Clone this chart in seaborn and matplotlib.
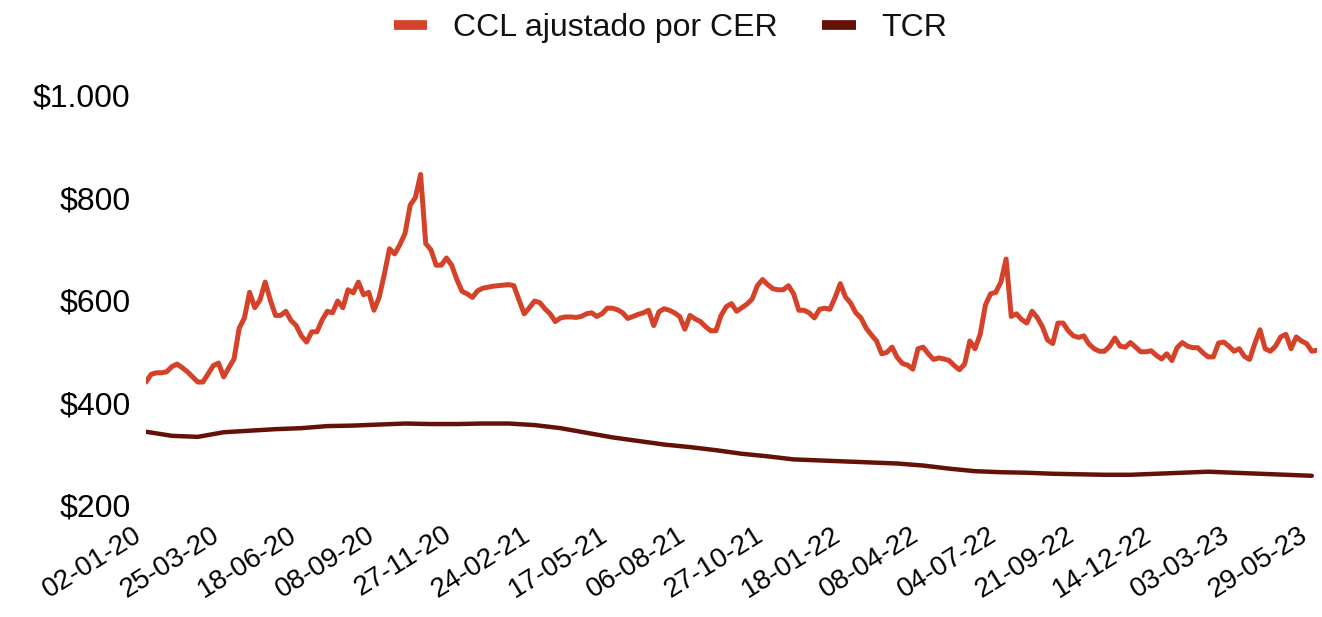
import matplotlib
matplotlib.use("Agg")
import matplotlib.pyplot as plt
import seaborn as sns
import numpy as np
import pandas as pd

# CCL ajustado por CER (one value every ~5px of the original)
ccl = [440, 455, 458, 458, 460, 470, 475, 468, 460, 450,
       440, 440, 456, 472, 477, 450, 468, 485, 545, 565,
       615, 585, 600, 635, 600, 570, 570, 578, 560, 550,
       530, 518, 538, 538, 561, 578, 575, 598, 585, 620,
       614, 635, 610, 615, 580, 605, 650, 700, 690, 708,
       730, 785, 800, 845, 710, 698, 668, 668, 682, 668,
       640, 617, 612, 605, 618, 623, 625, 627, 628, 629,
       630, 628, 600, 573, 585, 598, 595, 583, 573, 558,
       565, 567, 567, 566, 568, 573, 575, 568, 573, 584,
       584, 581, 575, 564, 568, 572, 575, 580, 550, 577,
       583, 580, 575, 568, 543, 570, 563, 558, 548, 540,
       540, 570, 587, 593, 578, 585, 592, 602, 628, 640,
       630, 622, 620, 620, 628, 612, 580, 580, 575, 565,
       582, 584, 582, 605, 632, 606, 594, 575, 565, 545,
       532, 520, 495, 498, 508, 488, 476, 473, 465, 505,
       508, 495, 484, 487, 485, 482, 472, 464, 475, 520,
       505, 533, 590, 612, 615, 635, 680, 568, 573, 562,
       555, 578, 566, 548, 522, 515, 555, 555, 540, 530,
       527, 530, 514, 505, 500, 500, 510, 526, 510, 508,
       517, 508, 499, 499, 501, 492, 485, 495, 482, 507,
       517, 510, 507, 507, 497, 489, 489, 516, 518, 510,
       500, 505, 490, 484, 515, 542, 505, 500, 510, 528,
       533, 505, 528, 520, 515, 500, 502]

# TCR, smoother series, one value every 5 CCL samples
tcr = [343, 335, 333, 342, 345, 348, 350, 354, 355, 357,
       359, 358, 358, 359, 359, 356, 350, 341, 332, 325,
       318, 313, 307, 300, 295, 289, 287, 285, 283, 281,
       277, 271, 266, 264, 263, 261, 260, 259, 259, 261,
       263, 265, 263, 261, 259, 257]
tcr_step = 5

tick_labels = ["02-01-20", "25-03-20", "18-06-20", "08-09-20", "27-11-20",
               "24-02-21", "17-05-21", "06-08-21", "27-10-21", "18-01-22",
               "08-04-22", "04-07-22", "21-09-22", "14-12-22", "03-03-23",
               "29-05-23"]
tick_step = 15

y_ticks = [200, 400, 600, 800, 1000]
y_labels = ["$200", "$400", "$600", "$800", "$1.000"]

df_ccl = pd.DataFrame({"i": np.arange(len(ccl)), "v": ccl})
df_tcr = pd.DataFrame({"i": np.arange(len(tcr)) * tcr_step, "v": tcr})

sns.set_style("white")
plt.rcParams["font.family"] = ["Liberation Sans", "DejaVu Sans"]

fig = plt.figure(figsize=(13.22, 6.17), dpi=100)
ax = fig.add_axes([0.1104, 0.1815, 0.8858, 0.6645])

sns.lineplot(data=df_ccl, x="i", y="v", ax=ax, color="#D5422A", linewidth=3.6,
             label="CCL ajustado por CER")
sns.lineplot(data=df_tcr, x="i", y="v", ax=ax, color="#641208", linewidth=3.2,
             label="TCR")

ax.set_xlim(0, len(ccl) - 1)
ax.set_ylim(200, 1000)
ax.set_xticks(np.arange(len(tick_labels)) * tick_step)
ax.set_xticklabels(tick_labels, rotation=32, ha="right", fontsize=20)
ax.set_yticks(y_ticks)
ax.set_yticklabels(y_labels, fontsize=23)
ax.tick_params(axis="both", length=0, colors="#000000")
ax.tick_params(axis="y", pad=11)
ax.tick_params(axis="x", pad=12)
ax.set_xlabel("")
ax.set_ylabel("")
sns.despine(ax=ax, left=True, bottom=True)

handles, labels = ax.get_legend_handles_labels()
ax.get_legend().remove()
leg = fig.legend(handles, labels, loc="center", bbox_to_anchor=(0.507, 0.955),
                 ncol=2, frameon=False, fontsize=23, handlelength=1.05,
                 handletextpad=0.8, columnspacing=1.4)
for t in leg.get_texts():
    t.set_color("#111111")
for h in leg.get_lines():
    h.set_linewidth(7)
    h.set_solid_capstyle("butt")

fig.savefig("out.png", dpi=100)
